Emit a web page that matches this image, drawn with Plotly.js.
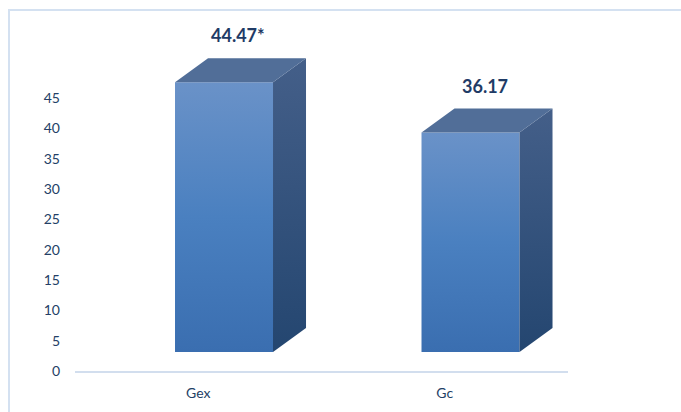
<!DOCTYPE html>
<html>
<head>
<meta charset="utf-8">
<script src="https://cdn.plot.ly/plotly-3.0.1.min.js"></script>
<style>
  html, body { margin: 0; padding: 0; background: #ffffff; }
  #wrap { position: relative; width: 681px; height: 412px; overflow: hidden; }
  #frame { position: absolute; left: 8px; top: 9px; width: 700px; height: 420px;
           border: 2px solid #d4e1f1; box-sizing: border-box; pointer-events: none; }
  #chart { position: absolute; left: 0; top: 0; width: 681px; height: 412px; }
</style>
</head>
<body>
<div id="wrap">
  <div id="chart"></div>
  <div id="frame"></div>
</div>
<script>
// ---- data ----
const categories = ["Gex", "Gc"];
const values = [44.47, 36.17];
const valueLabels = ["44.47*", "36.17"];
const yTicks = [0, 5, 10, 15, 20, 25, 30, 35, 40, 45];

// ---- 3D bar geometry (style constants, in axis units) ----
const frontLeft = -0.0943;   // front face left edge relative to category centre
const barW = 0.3976;         // front face width
const depthX = 0.1339;       // depth offset along x
const depthY = 3.956;        // depth offset along y
const baseY = 3.13;          // floor of the front face

const frontTop = "#6a92c8", frontBot = "#3a6eb0";
const sideTop = "#445f89", sideBot = "#244670";
const topColor = "#516e98";

const traces = [];
const annotations = [];
values.forEach(function (v, i) {
  const x0 = i + frontLeft, x1 = x0 + barW;
  const y0 = baseY, y1 = baseY + v;
  // front face
  traces.push({
    type: "scatter", mode: "lines", hoverinfo: "skip", showlegend: false,
    x: [x0, x1, x1, x0, x0], y: [y0, y0, y1, y1, y0],
    fill: "toself", line: { width: 0, color: frontBot },
    fillgradient: { type: "vertical", colorscale: [[0, frontBot], [0.5, "#4a80c0"], [1, frontTop]] }
  });
  // side face
  traces.push({
    type: "scatter", mode: "lines", hoverinfo: "skip", showlegend: false,
    x: [x1, x1 + depthX, x1 + depthX, x1, x1],
    y: [y0, y0 + depthY, y1 + depthY, y1, y0],
    fill: "toself", line: { width: 0, color: sideBot },
    fillgradient: { type: "vertical", colorscale: [[0, sideBot], [1, sideTop]] }
  });
  // top face
  traces.push({
    type: "scatter", mode: "lines", hoverinfo: "skip", showlegend: false,
    x: [x0, x1, x1 + depthX, x0 + depthX, x0],
    y: [y1, y1, y1 + depthY, y1 + depthY, y1],
    fill: "toself", fillcolor: topColor, line: { width: 0, color: topColor }
  });
  annotations.push({
    x: x0 + barW / 2 + depthX / 2 - 0.01, y: y1 + depthY,
    xref: "x", yref: "y", text: valueLabels[i], showarrow: false,
    yanchor: "bottom", yshift: 10,
    font: { family: "Lato, 'Open Sans', sans-serif", size: 18, color: "#1f3b66", weight: "bold" }
  });
});

const layout = {
  width: 681, height: 412,
  margin: { l: 75, r: 113, t: 10, b: 41, pad: 0 },
  paper_bgcolor: "rgba(0,0,0,0)", plot_bgcolor: "rgba(0,0,0,0)",
  showlegend: false,
  xaxis: {
    range: [-0.5, 1.5], tickvals: categories.map(function (c, i) { return i; }),
    ticktext: categories, ticks: "", showgrid: false, zeroline: false,
    showline: true, linecolor: "#d2deee", linewidth: 2,
    ticklabelstandoff: 8,
    tickfont: { family: "Lato, 'Open Sans', sans-serif", size: 14, color: "#243f66" },
    fixedrange: true
  },
  yaxis: {
    range: [0, 59.5], tickvals: yTicks, ticktext: yTicks.map(String),
    ticks: "", showgrid: false, zeroline: false, showline: false,
    ticklabelstandoff: 14,
    tickfont: { family: "Lato, 'Open Sans', sans-serif", size: 14, color: "#243f66" },
    fixedrange: true
  },
  annotations: annotations
};

Plotly.newPlot("chart", traces, layout, { staticPlot: true, displayModeBar: false });
</script>
</body>
</html>
